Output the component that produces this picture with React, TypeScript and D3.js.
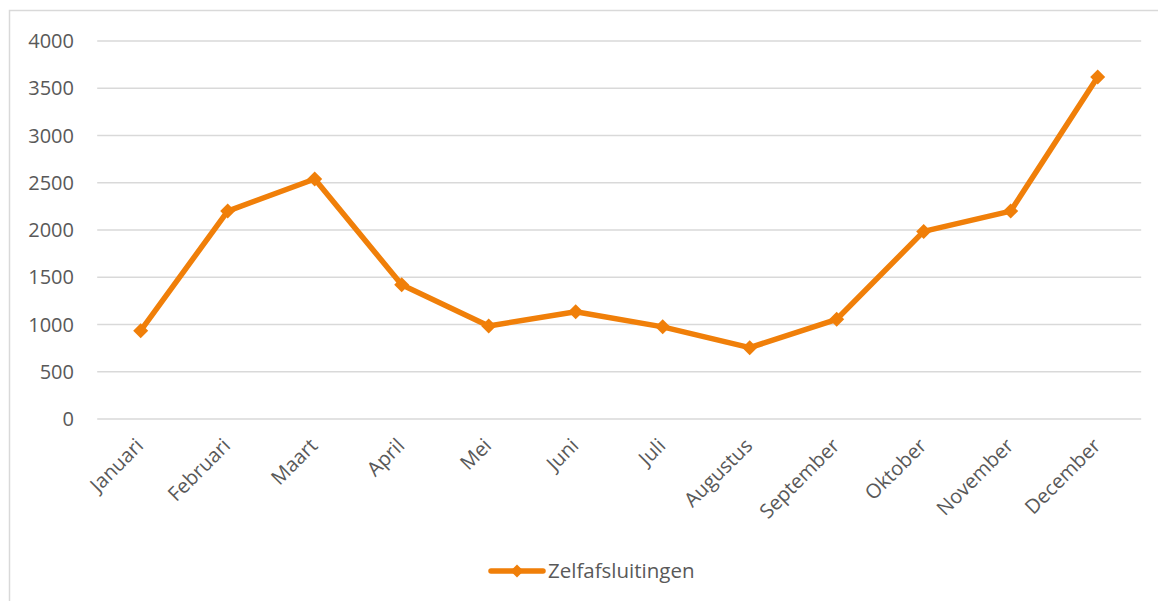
import React from "react";
import * as d3 from "d3";

const months = ["Januari", "Februari", "Maart", "April", "Mei", "Juni", "Juli", "Augustus", "September", "Oktober", "November", "December"];
const values = [935, 2200, 2540, 1420, 985, 1135, 975, 755, 1055, 1985, 2200, 3620];
const yTicks = [0, 500, 1000, 1500, 2000, 2500, 3000, 3500, 4000];
const seriesName = "Zelfafsluitingen";

const W = 1158;
const H = 601;
const ORANGE = "#F07F09";
const GRID = "#D9D9D9";
const TEXT = "#595959";
const FONT = "'Open Sans', sans-serif";

export default function App() {
  const x = d3.scaleBand<string>().domain(months).range([97.2, 1141.2]);
  const y = d3.scaleLinear().domain([0, 4000]).range([419, 41]);
  const cx = (m: string) => (x(m) ?? 0) + x.bandwidth() / 2;
  const line = d3
    .line<number>()
    .x((_, i) => cx(months[i]))
    .y((d) => y(d));
  const diamond = (px: number, py: number, r: number) =>
    `M${px},${py - r}L${px + r},${py}L${px},${py + r}L${px - r},${py}Z`;

  return (
    <svg
      width={W}
      height={H}
      style={{ position: "absolute", left: 0, top: 0, background: "#fff" }}
    >
      <rect x={9.5} y={10.5} width={W + 10} height={H + 10} fill="#fff" stroke={GRID} strokeWidth={1.5} />
      {yTicks.map((t) => (
        <g key={t}>
          <line x1={x.range()[0]} x2={x.range()[1]} y1={y(t)} y2={y(t)} stroke={GRID} strokeWidth={1.3} />
          <text x={74} y={y(t)} dy="0.36em" textAnchor="end" fontFamily={FONT} fontSize={20} fill={TEXT}>
            {t}
          </text>
        </g>
      ))}
      {months.map((m) => (
        <text
          key={m}
          transform={`translate(${cx(m) + 4},${447}) rotate(-45)`}
          textAnchor="end"
          fontFamily={FONT}
          fontSize={20}
          fill={TEXT}
        >
          {m}
        </text>
      ))}
      <path d={line(values) ?? ""} fill="none" stroke={ORANGE} strokeWidth={5.5} strokeLinejoin="round" />
      {values.map((v, i) => (
        <path key={i} d={diamond(cx(months[i]), y(v), 7.5)} fill={ORANGE} />
      ))}
      <g>
        <line x1={491} x2={543} y1={571} y2={571} stroke={ORANGE} strokeWidth={5.5} strokeLinecap="round" />
        <path d={diamond(517, 571, 6.5)} fill={ORANGE} />
        <text x={548} y={571} dy="0.36em" fontFamily={FONT} fontSize={20.5} fill={TEXT}>
          {seriesName}
        </text>
      </g>
    </svg>
  );
}
